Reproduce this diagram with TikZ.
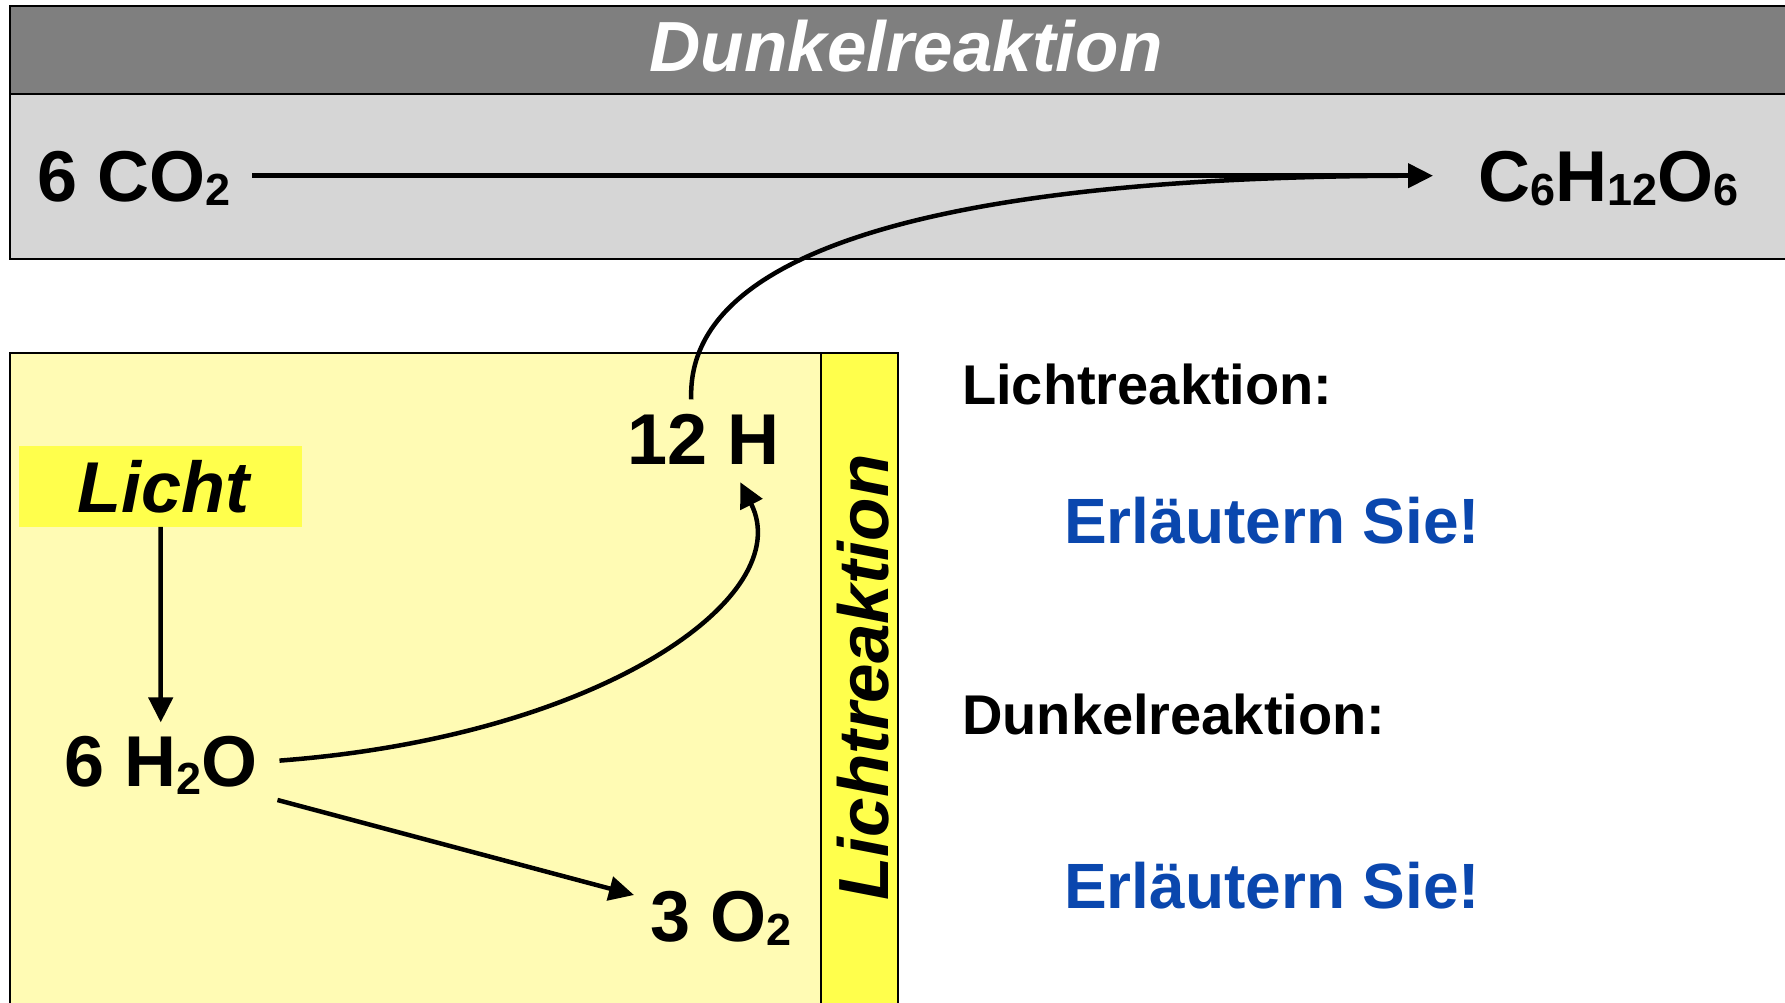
\documentclass[tikz,border=0pt]{standalone}
\usepackage{fontspec}
\setmainfont{Liberation Sans}
\usetikzlibrary{arrows.meta,calc}
\definecolor{darkband}{HTML}{7F7F7F}
\definecolor{lightband}{HTML}{D6D6D6}
\definecolor{paleyellow}{HTML}{FFFBB4}
\definecolor{brightyellow}{HTML}{FFFF4C}
\definecolor{askblue}{HTML}{0A47AE}
\newcommand\chemsub[2][4pt]{\raisebox{-#1}{\fontsize{45}{45}\selectfont #2}}
\begin{document}
\begin{tikzpicture}[x=1pt,y=-1pt,
  boxline/.style={draw=black,line width=2pt},
  chem/.style={inner sep=0pt,text height=52pt,text depth=0pt,anchor=base west,
    font=\fontsize{72}{86}\selectfont\bfseries},
  lbl/.style={inner sep=0pt,anchor=base west,font=\fontsize{56}{67}\selectfont\bfseries},
  ask/.style={inner sep=0pt,anchor=base west,text=askblue,font=\fontsize{64}{76}\selectfont\bfseries},
  arr/.style={line width=4.5pt,-{Triangle[length=25pt,width=24pt]}},
  plainline/.style={line width=4.5pt}]
\path[use as bounding box,clip] (0,0) rectangle (1785,1002);
\fill[white] (0,0) rectangle (1785,1002);
% Dunkelreaktion band
\draw[boxline,fill=darkband] (10,6) rectangle (1800,93.5);
\draw[boxline,fill=lightband] (10,93.5) rectangle (1800,258.5);
\node[inner sep=0pt,anchor=base,text=white,font=\fontsize{71}{85}\selectfont\bfseries\itshape] (title) at (906,71.7) {Dunkelreaktion};
% Lichtreaktion box
\draw[boxline,fill=paleyellow] (10,353) rectangle (898,1015);
\draw[boxline,fill=brightyellow] (821,353) rectangle (898,1015);
\node[inner sep=0pt,anchor=base,rotate=90,font=\fontsize{71}{85}\selectfont\bfseries\itshape] (lrot) at (888,677.5) {Lichtreaktion};
% chemical nodes
\node[chem] (co2) at (37,201.7) {6 CO\chemsub{2}};
\node[chem] (glc) at (1478,201.7) {C\chemsub{6}H\chemsub{12}O\chemsub{6}};
\node[chem] (h2o) at (64,786.6) {6 H\chemsub[8pt]{2}O};
\node[chem] (h12) at (627,464.5) {12 H};
\node[chem] (o2) at (650,941.5) {3 O\chemsub{2}};
\node[fill=brightyellow,minimum width=282.5pt,minimum height=80.5pt,inner sep=0pt,
  text height=52pt,text depth=0pt,font=\fontsize{72}{86}\selectfont\bfseries\itshape] (licht) at (160.5,486.3) {\hspace{6pt}Licht};
% right-hand text
\node[lbl] (lq) at (962,404) {Lichtreaktion:};
\node[ask] (a1) at (1064,543) {Erläutern Sie!};
\node[lbl] (dq) at (962,734) {Dunkelreaktion:};
\node[ask] (a2) at (1064,908) {Erläutern Sie!};
% connectors
\draw[arr] ([xshift=22pt]co2.east) -- ([xshift=-45pt]glc.west);
\coordinate (join) at ([xshift=-60pt]glc.west);
\coordinate (hstart) at ([xshift=-12pt,yshift=13pt]h12.north);
\draw[plainline] (hstart) .. controls ($(hstart)+(-6,-159)$) and ($(join)+(-440,0)$) .. (join);
\draw[arr] (licht.south) -- ([yshift=12pt]h2o.north);
\coordinate (s1) at ([xshift=22pt]h2o.east);
\coordinate (e1) at ([xshift=37pt,yshift=-17.5pt]h12.south);
\draw[arr] (s1) .. controls ($(s1)+(320,-24)$) and ($(e1)+(58,115)$) .. (e1);
\draw[arr] ([xshift=20pt,yshift=-39.4pt]h2o.east) -- ([xshift=-16pt,yshift=20.5pt]o2.west);
\end{tikzpicture}
\end{document}
